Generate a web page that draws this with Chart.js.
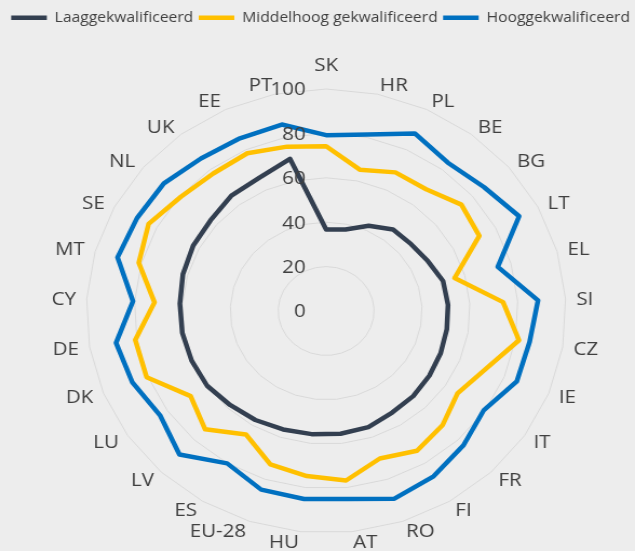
<!DOCTYPE html>
<html>
<head>
<meta charset="utf-8">
<script src="https://cdn.jsdelivr.net/npm/chart.js@4"></script>
<style>
  body { margin: 0; background: #ededed; overflow: hidden; }
</style>
</head>
<body>
<!-- the original picture is a bit wider than it is tall, so the canvas is stretched -->
<canvas id="myChart" width="588" height="551" style="width:635px;height:551px"></canvas>
<script>
const landen = ['SK', 'HR', 'PL', 'BE', 'BG', 'LT', 'EL', 'SI', 'CZ', 'IE', 'IT', 'FR', 'FI', 'RO', 'AT',
  'HU', 'EU-28', 'ES', 'LV', 'LU', 'DK', 'DE', 'CY', 'MT', 'SE', 'NL', 'UK', 'EE', 'PT'];

const laag = [36.7, 37.6, 42.3, 46.1, 46.5, 48.0, 50.6, 50.9, 51.0, 51.4, 52.0, 52.8, 53.4, 55.2, 55.6,
  55.8, 56.3, 57.3, 58.3, 60.0, 60.4, 60.8, 61.1, 62.0, 62.8, 63.2, 65.3, 66.2, 70.2];
const middel = [74.2, 65.2, 68.8, 68.9, 74.0, 72.3, 55.6, 73.9, 81.5, 71.3, 66.2, 70.7, 73.5, 70.1, 76.8,
  74.8, 72.9, 64.9, 73.4, 68.3, 80.6, 80.7, 71.7, 81.1, 83.8, 79.5, 77.8, 78.3, 75.8];
const hoog = [79.2, 81.4, 88.1, 83.9, 86.3, 91.1, 74.3, 88.5, 86.0, 85.6, 79.5, 83.3, 86.9, 89.2, 85.2,
  85.2, 84.9, 80.1, 89.0, 83.7, 87.0, 88.8, 80.7, 90.3, 89.3, 88.8, 86.3, 85.7, 86.0];

const schaalTicks = [0, 20, 40, 60, 80, 100];

const tekstKleur = '#404040';
const labelFont = '19px "Open Sans"';

// Excel puts the value labels left of the axis and the country names around the spokes
const radarLabels = {
  id: 'radarLabels',
  afterDraw(chart) {
    const s = chart.scales.r;
    const ctx = chart.ctx;
    ctx.save();
    ctx.font = labelFont;
    ctx.fillStyle = tekstKleur;
    ctx.textBaseline = 'middle';
    ctx.textAlign = 'right';
    schaalTicks.forEach(v => {
      ctx.fillText(String(v), s.xCenter - 19, s.yCenter - s.getDistanceFromCenterForValue(v) + 1);
    });
    landen.forEach((naam, i) => {
      const boven = i === 0;
      const p = s.getPointPosition(i, s.drawingArea + (boven ? 24 : 10));
      const dx = p.x - s.xCenter;
      ctx.textAlign = Math.abs(dx) < 1 ? 'center' : (dx > 0 ? 'left' : 'right');
      ctx.fillText(naam, p.x, p.y + 1);
    });
    ctx.restore();
  }
};

function teken() {
  new Chart(document.getElementById('myChart'), {
    type: 'radar',
    data: {
      labels: landen,
      datasets: [
        { label: 'Laaggekwalificeerd', data: laag, borderColor: '#333f50' },
        { label: 'Middelhoog gekwalificeerd', data: middel, borderColor: '#ffc000' },
        { label: 'Hooggekwalificeerd', data: hoog, borderColor: '#0070c0' }
      ].map(d => Object.assign(d, {
        borderWidth: 4.5,
        backgroundColor: 'transparent',
        fill: false,
        tension: 0,
        pointRadius: 0,
        pointHoverRadius: 0,
        borderJoinStyle: 'round'
      }))
    },
    options: {
      responsive: false,
      animation: false,
      // negative right padding gives the legend room for one row
      layout: { padding: { top: 5.5, left: 5.35, right: -11.25, bottom: 17 } },
      plugins: {
        legend: {
          align: 'start',
          labels: {
            usePointStyle: true,
            pointStyle: 'line',
            pointStyleWidth: 33,
            padding: 5,
            color: tekstKleur,
            font: { family: 'Open Sans', size: 14.5 }
          }
        },
        // empty title only used as gap between legend and plot
        title: { display: true, text: '', weight: 500, padding: 0, font: { size: 54, lineHeight: 1 } },
        tooltip: { enabled: false }
      },
      scales: {
        r: {
          min: 0,
          max: 100,
          ticks: { stepSize: 20, display: false },
          pointLabels: { display: false },
          angleLines: { display: false },
          grid: { color: '#d9d9d9', lineWidth: 1 },
          // the plot centre of the original sits a little right of the middle
          afterSetDimensions: s => { s.xCenter += 6; }
        }
      }
    },
    plugins: [radarLabels]
  });
}

Promise.all([
  document.fonts.load('19px "Open Sans"'),
  document.fonts.load('14.5px "Open Sans"')
]).then(teken, teken);
</script>
</body>
</html>
